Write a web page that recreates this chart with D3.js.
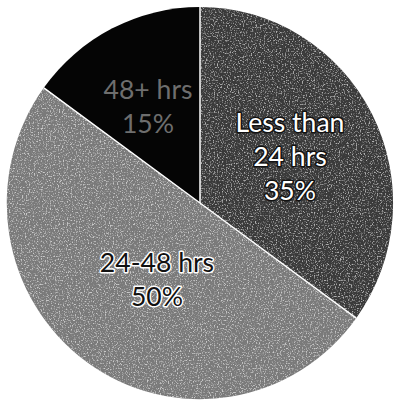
<!DOCTYPE html>
<html>
<head>
<meta charset="utf-8">
<script src="https://cdn.jsdelivr.net/npm/d3@7"></script>
<style>
  html, body { margin: 0; padding: 0; background: #ffffff; }
  svg { display: block; }
</style>
</head>
<body>
<script>
// Response time categories and their shares (percent)
const categories = ["Less than 24 hrs", "24-48 hrs", "48+ hrs"];
const labelLines = [["Less than", "24 hrs"], ["24-48 hrs"], ["48+ hrs"]];
const values = [35, 50, 15];
const sliceColors = ["#3a3a3a", "#7a7a7a", "#050505"];
const textFill = ["#ffffff", "#111111", "#6e6e6e"];
const textStroke = ["#111111", "#ffffff", "none"];

const width = 394, height = 405;
const cx = 200, cy = 203, radius = 196;
const squeeze = 0.985;

const svg = d3.select("body").append("svg")
  .attr("width", width)
  .attr("height", height);

// grainy halftone texture laid over the grey slices
const defs = svg.append("defs");
const grain = defs.append("filter")
  .attr("id", "grain")
  .attr("x", 0).attr("y", 0).attr("width", "100%").attr("height", "100%");
grain.append("feTurbulence")
  .attr("type", "fractalNoise")
  .attr("baseFrequency", 0.75)
  .attr("numOctaves", 2)
  .attr("seed", 3)
  .attr("result", "noise");
grain.append("feColorMatrix")
  .attr("in", "noise")
  .attr("type", "matrix")
  .attr("values", "0 0 0 0 1  0 0 0 0 1  0 0 0 0 1  4 0 0 0 -2.05")
  .attr("result", "speckle");
grain.append("feComposite")
  .attr("in", "speckle")
  .attr("in2", "SourceGraphic")
  .attr("operator", "in");

const pie = d3.pie().sort(null).value(d => d)(values);
const arc = d3.arc().innerRadius(0).outerRadius(radius);

const g = svg.append("g").attr("transform", `translate(${cx},${cy}) scale(${squeeze},1)`);

g.selectAll("path.slice")
  .data(pie)
  .join("path")
  .attr("class", "slice")
  .attr("d", arc)
  .attr("fill", (d, i) => sliceColors[i]);

// speckle overlay on the two grey slices
g.selectAll("path.grain")
  .data(pie.filter((d, i) => i < 2))
  .join("path")
  .attr("class", "grain")
  .attr("d", arc)
  .attr("fill", "#ffffff")
  .attr("opacity", 0.6)
  .attr("filter", "url(#grain)");

// fine white separators between slices
g.selectAll("line.sep")
  .data(pie)
  .join("line")
  .attr("class", "sep")
  .attr("x1", 0).attr("y1", 0)
  .attr("x2", d => radius * Math.sin(d.startAngle))
  .attr("y2", d => -radius * Math.cos(d.startAngle))
  .attr("stroke", "#ffffff")
  .attr("stroke-width", 1.5);

// label block positions (page coordinates of the first line)
const labelX = [290, 157, 148];
const labelY = [123, 263, 90];
const lineHeight = 34;

pie.forEach((d, i) => {
  const lines = labelLines[i].concat([values[i] + "%"]);
  const x0 = (labelX[i] - cx) / squeeze;
  const y0 = labelY[i] - cy;
  const t = g.append("text")
    .attr("text-anchor", "middle")
    .attr("font-family", "Lato, 'Open Sans', sans-serif")
    .attr("font-size", 27)
    .attr("fill", textFill[i])
    .attr("stroke", textStroke[i])
    .attr("stroke-width", textStroke[i] === "none" ? 0 : 3)
    .attr("paint-order", "stroke")
    .attr("stroke-linejoin", "round");
  lines.forEach((s, k) => {
    t.append("tspan")
      .attr("x", x0)
      .attr("y", y0 + k * lineHeight)
      .attr("dy", "0.35em")
      .text(s);
  });
});
</script>
</body>
</html>
